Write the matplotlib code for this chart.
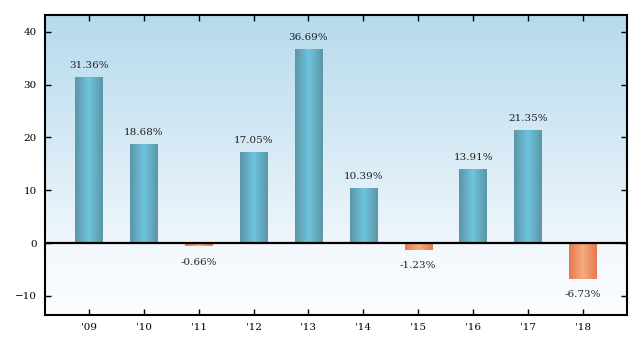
import numpy as np
import matplotlib.pyplot as plt
from matplotlib.colors import LinearSegmentedColormap

years = ["'09", "'10", "'11", "'12", "'13", "'14", "'15", "'16", "'17", "'18"]
returns = [31.36, 18.68, -0.66, 17.05, 36.69, 10.39, -1.23, 13.91, 21.35, -6.73]

plt.rcParams["font.family"] = ["DejaVu Serif"]

blue = LinearSegmentedColormap.from_list("blue_bar", ["#5b96a6", "#6ec4df", "#5b96a6"])
orange = LinearSegmentedColormap.from_list("orange_bar", ["#e57a50", "#f5ad7e", "#e57a50"])
backdrop = LinearSegmentedColormap.from_list(
    "backdrop", [(0.0, "#fbfdff"), (0.24, "#f3f8fd"), (0.245, "#eef6fb"), (1.0, "#b6daed")])

fig, ax = plt.subplots(figsize=(6.41, 3.47), dpi=100)
fig.subplots_adjust(left=0.070, right=0.978, top=0.957, bottom=0.092)

x = np.arange(len(years))
ymin, ymax = -13.65, 43.2
ax.set_xlim(-0.8, len(years) - 0.2)
ax.set_ylim(ymin, ymax)

# vertical wash behind the plot
grad = np.linspace(0, 1, 256).reshape(-1, 1)
ax.imshow(grad, cmap=backdrop, aspect="auto", origin="lower",
          extent=(-0.8, len(years) - 0.2, ymin, ymax), zorder=0)

bars = ax.bar(x, returns, width=0.5, color="none", zorder=2)
hgrad = np.linspace(0, 1, 64).reshape(1, -1)
for patch, val in zip(bars, returns):
    x0, y0 = patch.get_x(), patch.get_y()
    w, h = patch.get_width(), patch.get_height()
    ax.imshow(hgrad, cmap=blue if val >= 0 else orange, aspect="auto",
              extent=(x0, x0 + w, min(y0, y0 + h), max(y0, y0 + h)), zorder=2)
    if val >= 0:
        ax.annotate(f"{val:.2f}%", (patch.get_x() + w / 2, val), xytext=(0, 5.5),
                    textcoords="offset points", ha="center", va="bottom", fontsize=7.5, color="#222222")
    else:
        ax.annotate(f"{val:.2f}%", (patch.get_x() + w / 2, val), xytext=(0, -8),
                    textcoords="offset points", ha="center", va="top", fontsize=7.5, color="#222222")

ax.axhline(0, color="black", linewidth=1.6, zorder=3)

ax.set_xticks(x)
ax.set_xticklabels(years)
ax.set_yticks([-10, 0, 10, 20, 30, 40])
ax.tick_params(direction="in", length=4.5, width=1, labelsize=7.5, colors="black",
               top=True, right=True, pad=6)
for spine in ax.spines.values():
    spine.set_linewidth(1.5)

fig.savefig("out.png", dpi=100)
